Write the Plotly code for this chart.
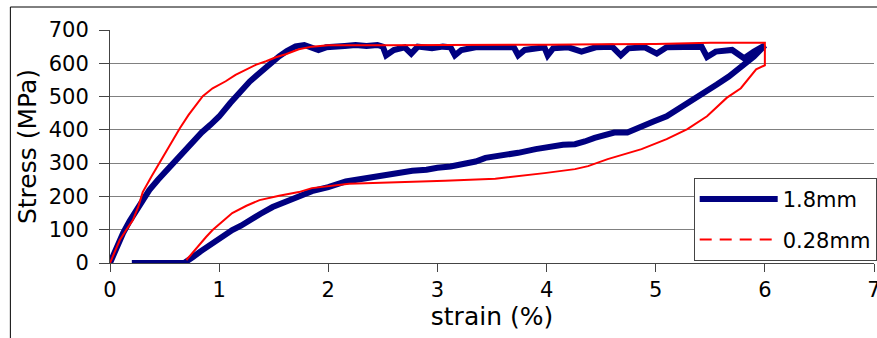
import plotly.graph_objects as go

# 1.8mm specimen: loading, plateau, unloading
strain_18 = [0, 0.06, 0.12, 0.18, 0.27, 0.36, 0.44, 0.52, 0.6, 0.68, 0.76, 0.84, 0.92, 1.0, 1.1, 1.19, 1.28,
             1.37, 1.46, 1.55, 1.62, 1.7,
             1.78, 1.85, 1.91, 1.98, 2.05, 2.15, 2.25, 2.35, 2.45, 2.5, 2.53, 2.6, 2.7, 2.76, 2.82, 2.95, 3.05,
             3.12, 3.16, 3.22, 3.35, 3.5, 3.62, 3.7, 3.74, 3.8, 3.92, 3.98, 4.01, 4.06, 4.2, 4.32, 4.45, 4.6,
             4.68, 4.75, 4.9, 5.01, 5.1, 5.3, 5.42, 5.47, 5.55, 5.7, 5.81, 5.9, 6.0,
             5.9, 5.78, 5.67, 5.56, 5.44, 5.32, 5.2, 5.1, 4.98, 4.87, 4.74, 4.62, 4.53, 4.44, 4.35, 4.26, 4.15,
             4.04, 3.9, 3.74, 3.6, 3.44, 3.35, 3.25, 3.12, 3.0, 2.9, 2.77, 2.6, 2.46, 2.3, 2.16, 2.0, 1.85,
             1.73, 1.6, 1.49, 1.38, 1.28, 1.2, 1.12, 1.02, 0.91, 0.83, 0.76, 0.7, 0.68, 0.5, 0.2]
stress_18 = [0, 48, 90, 126, 175, 219, 250, 279, 310, 340, 365, 392, 415, 440, 480, 516, 545,
             571, 598, 621, 637, 651,
             655, 648, 640, 648, 651, 652, 655, 652, 655, 650, 624, 640, 648, 629, 650, 645, 650,
             648, 624, 640, 648, 650, 648, 648, 624, 640, 645, 648, 624, 645, 648, 635, 648, 650,
             624, 645, 648, 629, 648, 650, 650, 619, 635, 640, 615, 635, 654,
             620, 586, 560, 536, 510, 486, 460, 441, 425, 411, 392, 392, 385, 376, 365, 357, 355,
             351, 342, 331, 322, 316, 305, 297, 290, 286, 280, 277, 268, 261, 250, 245, 228, 216,
             200, 185, 168, 148, 127, 112, 99, 78, 54, 35, 18, 5, 0, 0, 0]

# 0.28mm specimen
strain_028 = [0, 0.04, 0.09, 0.15, 0.21, 0.26, 0.3, 0.38, 0.46, 0.55, 0.64, 0.72, 0.8, 0.85, 0.94, 1.06,
              1.15, 1.25, 1.34, 1.43, 1.52, 1.61, 1.73, 1.85, 2.0, 2.5, 3.0, 3.5, 4.0, 4.5, 5.0, 5.5, 6.0,
              6.0, 6.0, 5.92, 5.85, 5.78, 5.65, 5.47, 5.29, 5.1, 4.87, 4.56, 4.38, 4.26, 3.98, 3.53, 3.07,
              2.46, 2.19, 1.85, 1.73, 1.55, 1.37, 1.25, 1.12, 1.03, 0.94, 0.88, 0.82, 0.76, 0.7]
stress_028 = [0, 30, 69, 100, 129, 170, 213, 260, 306, 355, 405, 445, 480, 501, 525, 546,
              565, 582, 596, 606, 618, 627, 642, 650, 654, 654, 654, 655, 656, 657, 658, 662, 662,
              609, 594, 582, 555, 525, 496, 441, 402, 372, 342, 312, 291, 282, 270, 253, 247,
              242, 238, 225, 213, 202, 189, 172, 150, 125, 99, 78, 54, 30, 9]

x_ticks = [0, 1, 2, 3, 4, 5, 6, 7]
y_ticks = [0, 100, 200, 300, 400, 500, 600, 700]

FONT = "DejaVu Sans, Arial, sans-serif"

fig = go.Figure()
fig.add_trace(go.Scatter(x=strain_18, y=stress_18, mode="lines", name="1.8mm",
                         line=dict(color="#000080", width=6), legendgroup="a"))
fig.add_trace(go.Scatter(x=strain_028, y=stress_028, mode="lines", name="0.28mm",
                         line=dict(color="#FF0000", width=2), showlegend=False, legendgroup="b"))
fig.add_trace(go.Scatter(x=[None], y=[None], mode="lines", name="0.28mm",
                         line=dict(color="#FF0000", width=2, dash="12px,8px"), legendgroup="b"))

fig.update_layout(
    width=877, height=338,
    margin=dict(l=110, r=0, t=30, b=75),
    paper_bgcolor="white", plot_bgcolor="white",
    font=dict(family=FONT, size=21, color="black"),
    showlegend=True,
    legend=dict(x=0.764, y=0.365, xanchor="left", yanchor="top",
                bgcolor="white", bordercolor="#444444", borderwidth=1,
                font=dict(family=FONT, size=21), itemwidth=78, tracegroupgap=10),
    xaxis=dict(range=[0, 7], tickvals=x_ticks, ticks="outside", ticklen=8, tickcolor="#444444",
               showline=True, linecolor="#444444", linewidth=1, showgrid=False, zeroline=False,
               ticklabeloverflow="allow",
               title=dict(text="strain (%)", standoff=2), automargin=False),
    yaxis=dict(range=[0, 700], tickvals=y_ticks, ticks="outside", ticklen=10, tickcolor="#444444",
               showline=True, linecolor="#444444", linewidth=1, showgrid=True, gridcolor="#808080",
               gridwidth=1, zeroline=False, ticklabelstandoff=6,
               title=dict(text="Stress (MPa)", standoff=4),
               automargin=False),
    shapes=[dict(type="rect", xref="paper", yref="paper", x0=-0.1304, x1=1.05, y0=-0.6, y1=1.0987,
                 line=dict(color="black", width=1), fillcolor="rgba(0,0,0,0)", layer="below")],
)

fig.write_html("out.html")
